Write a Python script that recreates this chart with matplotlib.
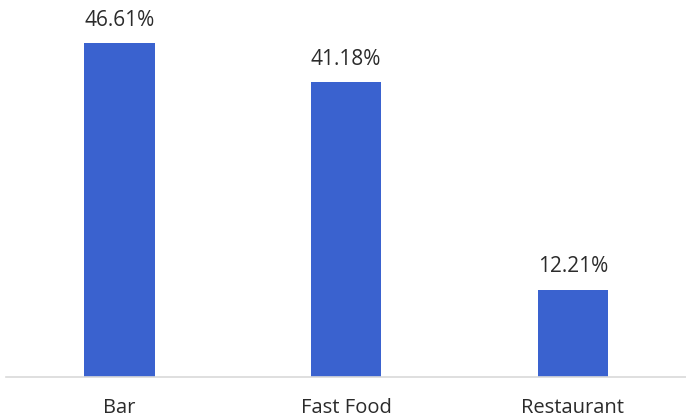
import matplotlib
matplotlib.use("Agg")
import matplotlib.pyplot as plt

categories = ["Bar", "Fast Food", "Restaurant"]
shares = [46.61, 41.18, 12.21]

plt.rcParams['font.family'] = ['Open Sans', 'DejaVu Sans']

fig = plt.figure(figsize=(6.86, 4.19), dpi=100)
ax = fig.add_axes([0.009, 0.1, 0.991, 0.855])

x = range(len(categories))
bars = ax.bar(x, shares, width=0.31, color="#3A62CF")

# value labels above each bar
for b, v in zip(bars, shares):
    ax.annotate(f"{v:.2f}%", xy=(b.get_x() + b.get_width() / 2, v),
                xytext=(0, 9), textcoords="offset points",
                ha="center", va="bottom", fontsize=15, color="#2b2b2b")

ax.set_xlim(-0.5, 2.5)
ax.set_ylim(0, 50)
ax.set_xticks(list(x))
ax.set_xticklabels(categories, fontsize=14.5, color="#2b2b2b")
ax.tick_params(axis="x", length=0, pad=15)
ax.set_yticks([])
for s in ["top", "right", "left"]:
    ax.spines[s].set_visible(False)
ax.spines["bottom"].set_color("#d9d9d9")
ax.spines["bottom"].set_linewidth(1.2)

fig.savefig("out.png", dpi=100)
